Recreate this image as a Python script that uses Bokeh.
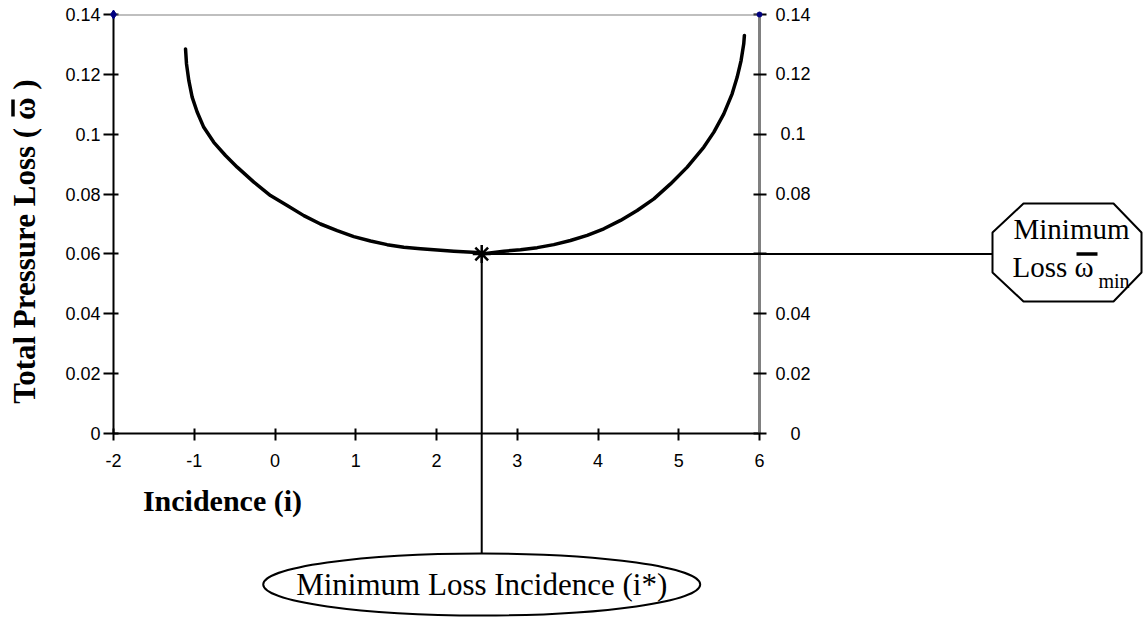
import numpy as np
from math import pi
from bokeh.plotting import figure
from bokeh.models import Range1d, LinearAxis, FixedTicker, Span
from bokeh.core.properties import value
from bokeh.embed import file_html
from bokeh.resources import INLINE

# Loss bucket: total pressure loss against incidence
incidence = [-1.108, -1.096, -1.067, -1.026, -0.964, -0.882, -0.758, -0.613, -0.468, -0.262,
             -0.056, 0.151, 0.357, 0.563, 0.770, 0.976, 1.183, 1.389, 1.595, 1.802,
             2.009, 2.214, 2.503, 2.56, 2.834, 3.040, 3.247, 3.453, 3.659, 3.866,
             4.072, 4.279, 4.485, 4.692, 4.898, 5.105, 5.311, 5.435, 5.558, 5.661,
             5.723, 5.772, 5.805, 5.813]
loss = [0.1285, 0.1235, 0.1179, 0.1124, 0.1074, 0.1023, 0.0973, 0.0929, 0.0890, 0.0840,
        0.0795, 0.0762, 0.0728, 0.0700, 0.0678, 0.0658, 0.0643, 0.0631, 0.0622, 0.0617,
        0.0613, 0.0609, 0.0605, 0.0600, 0.0609, 0.0614, 0.0621, 0.0631, 0.0645, 0.0662,
        0.0684, 0.0712, 0.0745, 0.0784, 0.0834, 0.0890, 0.0957, 0.1007, 0.1068, 0.1135,
        0.1190, 0.1246, 0.1302, 0.1330]

x_ticks = [-2, -1, 0, 1, 2, 3, 4, 5, 6]
x_tick_labels = ["-2", "-1", "0", "1", "2", "3", "4", "5", "6"]
y_ticks = [0, 0.02, 0.04, 0.06, 0.08, 0.1, 0.12, 0.14]
y_tick_labels = ["0", "0.02", "0.04", "0.06", "0.08", "0.1", "0.12", "0.14"]
# right-hand labels are centred in their column; the 0.06 one sits under the callout line
y_tick_labels_right = ["\u2007\u20080", "0.02", "0.04", "", "0.08", "\u20080.1", "0.12", "0.14"]

W, H = 1147, 619
LEFT, RIGHT, TOP, BOTTOM = 113, 388, 14, 186
X0, X1 = -2, 6
Y0, Y1 = 0, 0.14
FW, FH = W - LEFT - RIGHT, H - TOP - BOTTOM


def dx(px):
    """canvas pixel column -> data x"""
    return X0 + (px - LEFT) / FW * (X1 - X0)


def dy(py):
    """canvas pixel row -> data y"""
    return Y0 + (H - BOTTOM - py) / FH * (Y1 - Y0)


p = figure(width=W, height=H, output_backend="svg", toolbar_location=None,
           x_range=Range1d(X0, X1), y_range=Range1d(Y0, Y1),
           min_border_left=LEFT, min_border_right=RIGHT,
           min_border_top=TOP, min_border_bottom=BOTTOM)
p.grid.visible = False
p.outline_line_color = None
p.background_fill_color = "white"
p.border_fill_color = "white"

TICK_FONT = "Liberation Sans"
SERIF = "Liberation Serif"

# bottom axis
xa = p.xaxis[0]
xa.ticker = FixedTicker(ticks=x_ticks)
xa.major_label_overrides = dict(zip(x_ticks, x_tick_labels))
xa.axis_line_width = 2
xa.axis_line_color = "black"
xa.major_tick_line_width = 2
xa.major_tick_line_color = "black"
xa.major_tick_in = 5
xa.major_tick_out = 7
xa.minor_tick_line_color = None
xa.major_label_text_font = TICK_FONT
xa.major_label_text_font_size = "18px"
xa.major_label_text_color = "black"
xa.major_label_standoff = 13

# left axis
ya = p.yaxis[0]
ya.ticker = FixedTicker(ticks=y_ticks)
ya.major_label_overrides = dict(zip(y_ticks, y_tick_labels))
ya.axis_line_width = 2
ya.axis_line_color = "black"
ya.major_tick_line_width = 2
ya.major_tick_line_color = "black"
ya.major_tick_in = 5
ya.major_tick_out = 10
ya.minor_tick_line_color = None
ya.major_label_text_font = TICK_FONT
ya.major_label_text_font_size = "18px"
ya.major_label_text_color = "black"
ya.major_label_standoff = 3

# right axis
ra = LinearAxis(ticker=FixedTicker(ticks=y_ticks))
ra.major_label_overrides = dict(zip(y_ticks, y_tick_labels_right))
ra.axis_line_width = 3
ra.axis_line_color = "#808080"
ra.major_tick_line_width = 2
ra.major_tick_line_color = "black"
ra.major_tick_in = 6
ra.major_tick_out = 7
ra.minor_tick_line_color = None
ra.major_label_text_font = TICK_FONT
ra.major_label_text_font_size = "18px"
ra.major_label_text_color = "black"
ra.major_label_standoff = 9
p.add_layout(ra, "right")

# top border
p.add_layout(Span(location=Y1, dimension="width", line_color="#808080", line_width=2))

# corner markers
p.scatter([X0], [Y1], marker="diamond", size=9, color="#000080", level="overlay")
p.scatter([X1], [Y1], marker="circle", size=5, color="#000080", level="overlay")

# loss curve
p.line(incidence, loss, line_width=3.5, line_color="black", line_join="round", line_cap="round")

# minimum loss point
k = int(np.argmin(loss))
i_min, w_min = incidence[k], loss[k]

# leader lines to the callouts
p.segment(x0=[i_min, i_min], y0=[w_min, w_min], x1=[dx(992), i_min], y1=[w_min, dy(553)],
          line_width=2, line_color="black", level="overlay")
p.scatter([i_min], [w_min], marker="asterisk", size=18, line_width=2.5,
          line_color="black", level="overlay")

# ellipse callout
p.ellipse(x=[i_min], y=[dy(584)], width=437, height=62, width_units="screen",
          height_units="screen", fill_color="white", line_color="black", line_width=2,
          level="overlay")
p.text(x=[i_min], y=[dy(584)], text=["Minimum Loss Incidence (i*)"],
       text_font=value(SERIF), text_font_size="31px", text_color="black",
       text_align="center", text_baseline="middle", level="overlay")

# octagon callout
oct_px = [(1023, 203), (1113, 203), (1141, 232), (1141, 272),
          (1113, 301), (1023, 301), (992, 272), (992, 232)]
p.patch([dx(a) for a, b in oct_px], [dy(b) for a, b in oct_px], fill_color="white",
        line_color="black", line_width=2, level="overlay")
p.text(x=[dx(1071)], y=[dy(228)], text=["Minimum"], text_font=value(SERIF),
       text_font_size="29px", text_color="black", text_align="center",
       text_baseline="middle", level="overlay")
p.text(x=[dx(1012)], y=[dy(266)], text=["Loss \u03c9"], text_font=value(SERIF),
       text_font_size="29px", text_color="black", text_align="left",
       text_baseline="middle", level="overlay")
p.text(x=[dx(1098)], y=[dy(280)], text=["min"], text_font=value(SERIF),
       text_font_size="20px", text_color="black", text_align="left",
       text_baseline="middle", level="overlay")

# axis titles
p.text(x=[dx(24)], y=[dy(241)], text=["Total Pressure Loss ( \u03c9 )"],
       angle=pi / 2, text_font=value(SERIF), text_font_size="31px",
       text_font_style="bold", text_color="black", text_align="center",
       text_baseline="middle", level="overlay")
p.text(x=[dx(222)], y=[dy(500)], text=["Incidence (i)"], text_font=value(SERIF),
       text_font_size="30px", text_font_style="bold", text_color="black",
       text_align="center", text_baseline="middle", level="overlay")

# mean-value bars over the omegas
p.segment(x0=[dx(1076), dx(12.5)], y0=[dy(253.5), dy(99)],
          x1=[dx(1097), dx(12.5)], y1=[dy(253.5), dy(116)],
          line_width=3.5, line_color="black", level="overlay")

open("out.html", "w").write(file_html(p, INLINE))
